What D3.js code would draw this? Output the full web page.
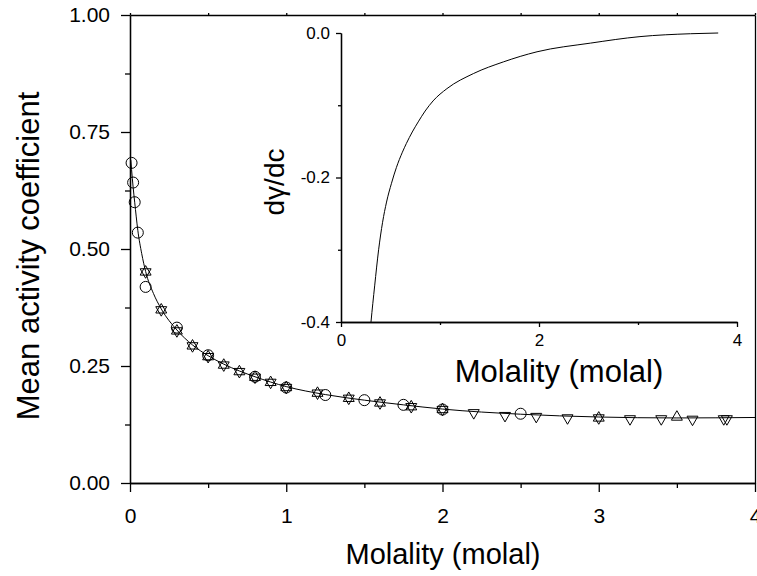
<!DOCTYPE html>
<html>
<head>
<meta charset="utf-8">
<script src="https://cdn.jsdelivr.net/npm/d3@7"></script>
<style>
  body { margin: 0; background: #fff; }
  text { font-family: 'Liberation Sans', Arial, sans-serif; fill: #000; }
</style>
</head>
<body>
<script>
// Data
const circleM = [0.01, 0.02, 0.03, 0.05, 0.1, 0.3, 0.5, 0.8, 1.0, 1.25, 1.5, 1.75, 2.0, 2.5];
const circleG = [0.684, 0.642, 0.600, 0.535, 0.419, 0.332, 0.273, 0.227, 0.204, 0.188, 0.177, 0.167, 0.157, 0.148];

const upM = [0.1, 0.2, 0.3, 0.4, 0.5, 0.6, 0.7, 0.8, 0.9, 1.0, 1.2, 1.4, 1.6, 1.8, 2.0, 3.0, 3.5];
const upG = [0.451, 0.370, 0.325, 0.293, 0.270, 0.252, 0.238, 0.226, 0.215, 0.204, 0.192, 0.181, 0.171, 0.163, 0.157, 0.139, 0.141];

const downM = [0.1, 0.2, 0.3, 0.4, 0.5, 0.6, 0.7, 0.8, 0.9, 1.0, 1.2, 1.4, 1.6, 1.8, 2.0, 2.2, 2.4, 2.6, 2.8, 3.0, 3.2, 3.4, 3.6, 3.8, 3.82];
const downG = [0.451, 0.370, 0.325, 0.293, 0.270, 0.252, 0.238, 0.226, 0.215, 0.204, 0.192, 0.181, 0.171, 0.163, 0.157, 0.150, 0.144, 0.142, 0.139, 0.139, 0.137, 0.137, 0.136, 0.137, 0.137];

const fitM = [0.005, 0.01, 0.02, 0.03, 0.05, 0.075, 0.1, 0.15, 0.2, 0.3, 0.4, 0.5, 0.6, 0.8, 1.0, 1.25, 1.5, 1.75, 2.0, 2.5, 3.0, 3.5, 4.0];
const fitG = [0.690, 0.670, 0.632, 0.600, 0.540, 0.490, 0.452, 0.405, 0.372, 0.327, 0.295, 0.272, 0.254, 0.227, 0.206, 0.189, 0.177, 0.167, 0.158, 0.147, 0.141, 0.139, 0.140];

const insetM = [0.29, 0.303, 0.34, 0.38, 0.42, 0.46, 0.51, 0.56, 0.62, 0.66, 0.72, 0.78, 0.85, 0.93, 1.07, 1.34, 1.64, 1.98, 2.52, 3.02, 3.53, 3.81];
const insetD = [-0.42, -0.40, -0.35, -0.30, -0.262, -0.234, -0.208, -0.186, -0.165, -0.153, -0.137, -0.123, -0.108, -0.094, -0.077, -0.056, -0.040, -0.026, -0.014, -0.005, -0.001, 0.000];

const mainXTicks = [0, 1, 2, 3, 4];
const mainXMinor = [0.5, 1.5, 2.5, 3.5];
const mainYTicks = [0, 0.25, 0.5, 0.75, 1.0];
const mainYMinor = [0.125, 0.375, 0.625, 0.875];
const insetXTicks = [0, 2, 4];
const insetXMinor = [1, 3];
const insetYTicks = [0, -0.2, -0.4];
const insetYMinor = [-0.1, -0.3];

const width = 757;
const height = 576;

const svg = d3.select('body').append('svg')
  .attr('width', width)
  .attr('height', height);

// Scales
const x = d3.scaleLinear().domain([0, 4]).range([130, 755]);
const y = d3.scaleLinear().domain([0, 1]).range([483, 15]);
const xi = d3.scaleLinear().domain([0, 4]).range([341, 737]);
const yi = d3.scaleLinear().domain([-0.4, 0]).range([322, 33]);

function styleAxis(g, size) {
  g.select('.domain').attr('stroke', '#000').attr('stroke-width', 1.3);
  g.selectAll('.tick line').attr('stroke', '#000').attr('stroke-width', 1.3);
  g.selectAll('.tick text').attr('font-size', size).attr('font-family', "'Liberation Sans', Arial, sans-serif");
}

// Main axes
const xAxisG = svg.append('g')
  .attr('transform', 'translate(0,483)')
  .call(d3.axisBottom(x).tickValues(mainXTicks).tickSize(9).tickPadding(16).tickSizeOuter(0)
    .tickFormat(d3.format('d')));
styleAxis(xAxisG, '21px');
svg.append('g')
  .attr('transform', 'translate(0,483)')
  .call(d3.axisBottom(x).tickValues(mainXMinor).tickSize(5).tickFormat('').tickSizeOuter(0))
  .call((g) => styleAxis(g, '0px'));

const yAxisG = svg.append('g')
  .attr('transform', 'translate(130,0)')
  .call(d3.axisLeft(y).tickValues(mainYTicks).tickSize(9).tickPadding(11).tickSizeOuter(0)
    .tickFormat(d3.format('.2f')));
styleAxis(yAxisG, '21px');
svg.append('g')
  .attr('transform', 'translate(130,0)')
  .call(d3.axisLeft(y).tickValues(mainYMinor).tickSize(5).tickFormat('').tickSizeOuter(0))
  .call((g) => styleAxis(g, '0px'));

// top and right frame
svg.append('g')
  .attr('transform', 'translate(0,15)')
  .call(d3.axisTop(x).tickValues(mainXTicks.concat(mainXMinor)).tickSize(2).tickFormat('').tickSizeOuter(0))
  .call((g) => styleAxis(g, '0px'));
svg.append('g')
  .attr('transform', 'translate(755,0)')
  .call(d3.axisRight(y).tickValues([]).tickSizeOuter(0))
  .call((g) => styleAxis(g, '0px'));

// Axis titles
svg.append('text')
  .attr('transform', 'translate(443,564)')
  .attr('text-anchor', 'middle')
  .attr('font-size', '29px')
  .text('Molality (molal)');

svg.append('text')
  .attr('transform', 'translate(39,256) rotate(-90)')
  .attr('text-anchor', 'middle')
  .attr('font-size', '31px')
  .text('Mean activity coefficient');

// Fit line
const fitData = fitM.map((m, i) => [m, fitG[i]]);
svg.append('path')
  .datum(fitData)
  .attr('fill', 'none')
  .attr('stroke', '#000')
  .attr('stroke-width', 1)
  .attr('d', d3.line().x((d) => x(d[0])).y((d) => y(d[1])).curve(d3.curveMonotoneX));

// Symbols
const triUp = d3.symbol().type(d3.symbolTriangle).size(52);

svg.append('g')
  .selectAll('circle')
  .data(circleM.map((m, i) => [m, circleG[i]]))
  .join('circle')
  .attr('cx', (d) => x(d[0]))
  .attr('cy', (d) => y(d[1]))
  .attr('r', 5.5)
  .attr('fill', 'none')
  .attr('stroke', '#000')
  .attr('stroke-width', 1);

svg.append('g')
  .selectAll('path')
  .data(upM.map((m, i) => [m, upG[i]]))
  .join('path')
  .attr('d', triUp)
  .attr('transform', (d) => `translate(${x(d[0])},${y(d[1])})`)
  .attr('fill', 'none')
  .attr('stroke', '#000')
  .attr('stroke-width', 1);

svg.append('g')
  .selectAll('path')
  .data(downM.map((m, i) => [m, downG[i]]))
  .join('path')
  .attr('d', triUp)
  .attr('transform', (d) => `translate(${x(d[0])},${y(d[1])}) rotate(180)`)
  .attr('fill', 'none')
  .attr('stroke', '#000')
  .attr('stroke-width', 1);

// Inset
const insetXG = svg.append('g')
  .attr('transform', 'translate(0,322)')
  .call(d3.axisBottom(xi).tickValues(insetXTicks).tickSize(5).tickPadding(7).tickSizeOuter(0)
    .tickFormat(d3.format('d')));
styleAxis(insetXG, '17px');
svg.append('g')
  .attr('transform', 'translate(0,322)')
  .call(d3.axisBottom(xi).tickValues(insetXMinor).tickSize(3).tickFormat('').tickSizeOuter(0))
  .call((g) => styleAxis(g, '0px'));

const insetYG = svg.append('g')
  .attr('transform', 'translate(341,0)')
  .call(d3.axisLeft(yi).tickValues(insetYTicks).tickSize(5).tickPadding(6).tickSizeOuter(0)
    .tickFormat((d) => d.toFixed(1)));
styleAxis(insetYG, '17px');
svg.append('g')
  .attr('transform', 'translate(341,0)')
  .call(d3.axisLeft(yi).tickValues(insetYMinor).tickSize(3).tickFormat('').tickSizeOuter(0))
  .call((g) => styleAxis(g, '0px'));

svg.append('defs').append('clipPath')
  .attr('id', 'inset-clip')
  .append('rect')
  .attr('x', 341)
  .attr('y', 20)
  .attr('width', 400)
  .attr('height', 302);

svg.append('path')
  .datum(insetM.map((m, i) => [m, insetD[i]]))
  .attr('clip-path', 'url(#inset-clip)')
  .attr('fill', 'none')
  .attr('stroke', '#000')
  .attr('stroke-width', 1)
  .attr('d', d3.line().x((d) => xi(d[0])).y((d) => yi(d[1])).curve(d3.curveMonotoneX));

svg.append('text')
  .attr('transform', 'translate(559,382)')
  .attr('text-anchor', 'middle')
  .attr('font-size', '31px')
  .text('Molality (molal)');

svg.append('text')
  .attr('transform', 'translate(284,182) rotate(-90)')
  .attr('text-anchor', 'middle')
  .attr('font-size', '28px')
  .text('dγ/dc');
</script>
</body>
</html>
